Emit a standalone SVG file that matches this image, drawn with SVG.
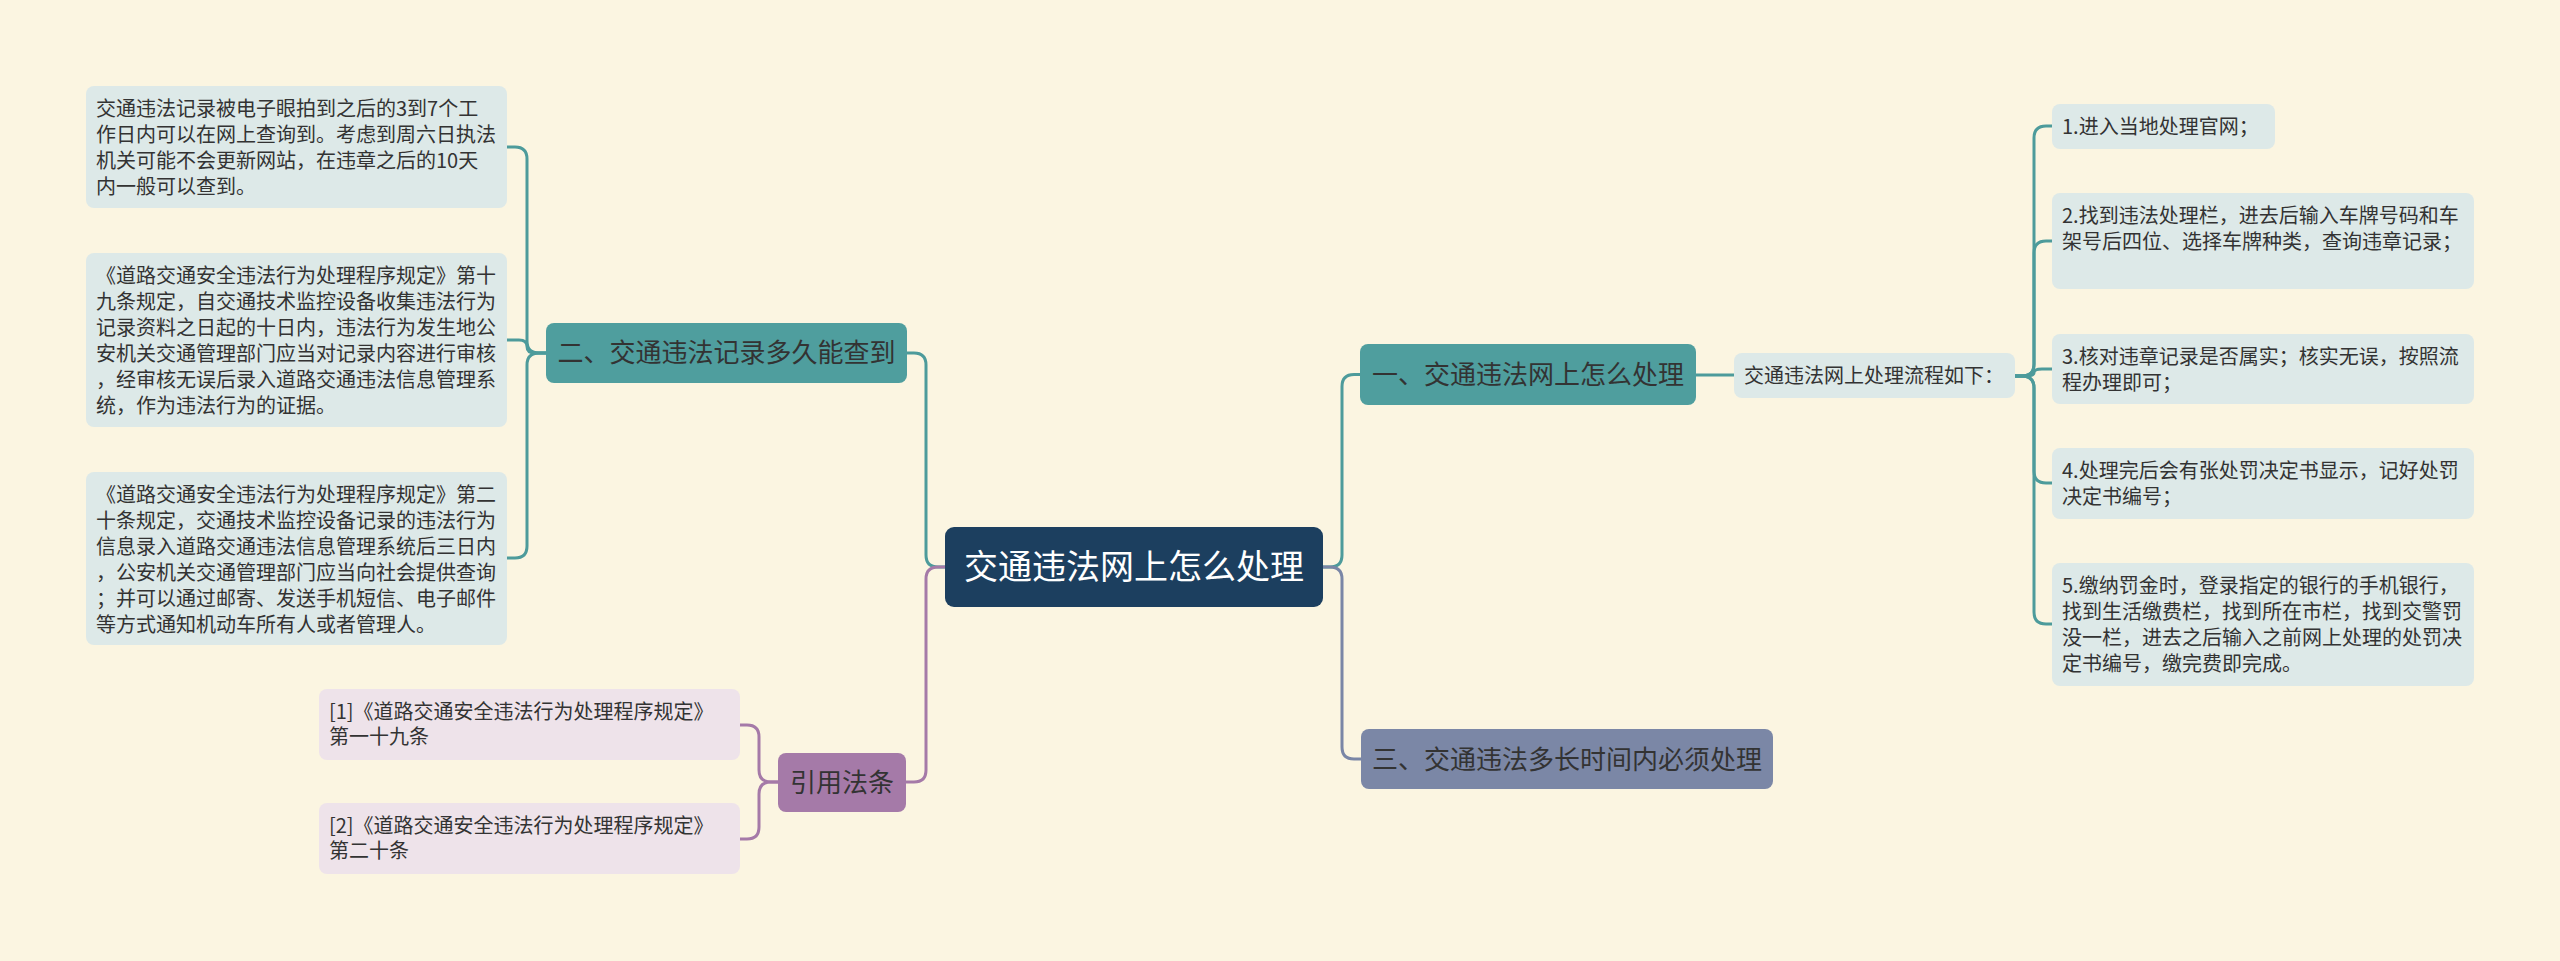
<svg xmlns="http://www.w3.org/2000/svg" width="2560" height="961" viewBox="0 0 2560 961">
<style>
text{font-family:"Noto Sans CJK SC","Noto Sans",sans-serif;fill:#333333}
.leaf{fill:#dde9e8}
.cite{fill:#eee3ea}
.lt{font-size:20px}
.nt{font-size:26px;text-anchor:middle}
.c{fill:none;stroke-width:3;stroke-linecap:round;stroke-linejoin:round}
.teal{stroke:#4d9b9b}
.pur{stroke:#a57aa8}
.sla{stroke:#7a86a6}
</style>
<rect width="2560" height="961" fill="#fbf5e1"/>
<g id="connectors">
<path class="c teal" d="M1323 567 L1330 567 Q1342 567 1342 555 V386.5 Q1342 374.5 1354 374.5 L1360 374.5"/>
<path class="c sla" d="M1323 567 L1330 567 Q1342 567 1342 579 V747 Q1342 759 1354 759 L1361 759"/>
<path class="c teal" d="M945 567 L938 567 Q926 567 926 555 V365 Q926 353 914 353 L907 353"/>
<path class="c pur" d="M945 567 L938 567 Q926 567 926 579 V770 Q926 782 914 782 L906 782"/>
<path class="c teal" d="M546 353 L539 353 Q527 353 527 341 V159 Q527 147 515 147 L507 147"/>
<path class="c teal" d="M546 353 L535 353 Q527 353 527 346.5 Q527 340 519 340 L507 340"/>
<path class="c teal" d="M546 353 L539 353 Q527 353 527 365 V546 Q527 558 515 558 L507 558"/>
<path class="c teal" d="M1696 375 L1734 375"/>
<path class="c teal" d="M2015 376 L2022 376 Q2034 376 2034 364 V138 Q2034 126 2046 126 L2052 126"/>
<path class="c teal" d="M2015 376 L2022 376 Q2034 376 2034 364 V253 Q2034 241 2046 241 L2052 241"/>
<path class="c teal" d="M2015 376 L2026 376 Q2034 376 2034 372.5 Q2034 369 2042 369 L2052 369"/>
<path class="c teal" d="M2015 376 L2022 376 Q2034 376 2034 388 V471 Q2034 483 2046 483 L2052 483"/>
<path class="c teal" d="M2015 376 L2022 376 Q2034 376 2034 388 V612 Q2034 624 2046 624 L2052 624"/>
<path class="c pur" d="M778 782 L771 782 Q759 782 759 770 V737 Q759 725 747 725 L740 725"/>
<path class="c pur" d="M778 782 L771 782 Q759 782 759 794 V827 Q759 839 747 839 L740 839"/>
</g>
<g id="root">
<rect x="945" y="527" width="378" height="80" rx="9" fill="#1c3f5f"/>
<text x="1134" y="579" style="font-size:34px;text-anchor:middle;fill:#ffffff">交通违法网上怎么处理</text>
</g>
<g id="n2">
<rect x="546" y="323" width="361" height="60" rx="8" fill="#4f9e9e"/>
<text class="nt" x="726.5" y="362">二、交通违法记录多久能查到</text>
</g>
<g id="n1">
<rect x="1360" y="344" width="336" height="61" rx="8" fill="#4f9e9e"/>
<text class="nt" x="1528" y="384">一、交通违法网上怎么处理</text>
</g>
<g id="n3">
<rect x="1361" y="729" width="412" height="60" rx="8" fill="#7b87a6"/>
<text class="nt" x="1567" y="768.5">三、交通违法多长时间内必须处理</text>
</g>
<g id="ncite">
<rect x="778" y="753" width="128" height="59" rx="8" fill="#a57aa8"/>
<text class="nt" x="842" y="791.5">引用法条</text>
</g>
<g id="l2a">
<rect class="leaf" x="86" y="86" width="421" height="122" rx="8"/>
<text class="lt" x="96" y="116"><tspan x="96">交通违法记录被电子眼拍到之后的3到7个工</tspan><tspan x="96" dy="26">作日内可以在网上查询到。考虑到周六日执法</tspan><tspan x="96" dy="26">机关可能不会更新网站，在违章之后的10天</tspan><tspan x="96" dy="26">内一般可以查到。</tspan></text>
</g>
<g id="l2b">
<rect class="leaf" x="86" y="253" width="421" height="174" rx="8"/>
<text class="lt" x="96" y="283"><tspan x="96">《道路交通安全违法行为处理程序规定》第十</tspan><tspan x="96" dy="26">九条规定，自交通技术监控设备收集违法行为</tspan><tspan x="96" dy="26">记录资料之日起的十日内，违法行为发生地公</tspan><tspan x="96" dy="26">安机关交通管理部门应当对记录内容进行审核</tspan><tspan x="96" dy="26">，经审核无误后录入道路交通违法信息管理系</tspan><tspan x="96" dy="26">统，作为违法行为的证据。</tspan></text>
</g>
<g id="l2c">
<rect class="leaf" x="86" y="472" width="421" height="173" rx="8"/>
<text class="lt" x="96" y="502"><tspan x="96">《道路交通安全违法行为处理程序规定》第二</tspan><tspan x="96" dy="26">十条规定，交通技术监控设备记录的违法行为</tspan><tspan x="96" dy="26">信息录入道路交通违法信息管理系统后三日内</tspan><tspan x="96" dy="26">，公安机关交通管理部门应当向社会提供查询</tspan><tspan x="96" dy="26">；并可以通过邮寄、发送手机短信、电子邮件</tspan><tspan x="96" dy="26">等方式通知机动车所有人或者管理人。</tspan></text>
</g>
<g id="c1">
<rect class="cite" x="319" y="689" width="421" height="71" rx="8"/>
<text class="lt" x="329" y="719"><tspan x="329">[1]《道路交通安全违法行为处理程序规定》</tspan><tspan x="329" dy="25">第一十九条</tspan></text>
</g>
<g id="c2">
<rect class="cite" x="319" y="803" width="421" height="71" rx="8"/>
<text class="lt" x="329" y="833"><tspan x="329">[2]《道路交通安全违法行为处理程序规定》</tspan><tspan x="329" dy="25">第二十条</tspan></text>
</g>
<g id="flow">
<rect class="leaf" x="1734" y="353" width="281" height="45" rx="8"/>
<text class="lt" x="1744" y="383">交通违法网上处理流程如下：</text>
</g>
<g id="s1">
<rect class="leaf" x="2052" y="104" width="223" height="45" rx="8"/>
<text class="lt" x="2062" y="134">1.进入当地处理官网；</text>
</g>
<g id="s2">
<rect class="leaf" x="2052" y="193" width="422" height="96" rx="8"/>
<text class="lt" x="2062" y="223"><tspan x="2062">2.找到违法处理栏，进去后输入车牌号码和车</tspan><tspan x="2062" dy="26">架号后四位、选择车牌种类，查询违章记录；</tspan></text>
</g>
<g id="s3">
<rect class="leaf" x="2052" y="334" width="422" height="70" rx="8"/>
<text class="lt" x="2062" y="364"><tspan x="2062">3.核对违章记录是否属实；核实无误，按照流</tspan><tspan x="2062" dy="26">程办理即可；</tspan></text>
</g>
<g id="s4">
<rect class="leaf" x="2052" y="448" width="422" height="71" rx="8"/>
<text class="lt" x="2062" y="478"><tspan x="2062">4.处理完后会有张处罚决定书显示，记好处罚</tspan><tspan x="2062" dy="26">决定书编号；</tspan></text>
</g>
<g id="s5">
<rect class="leaf" x="2052" y="563" width="422" height="123" rx="8"/>
<text class="lt" x="2062" y="593"><tspan x="2062">5.缴纳罚金时，登录指定的银行的手机银行，</tspan><tspan x="2062" dy="26">找到生活缴费栏，找到所在市栏，找到交警罚</tspan><tspan x="2062" dy="26">没一栏，进去之后输入之前网上处理的处罚决</tspan><tspan x="2062" dy="26">定书编号，缴完费即完成。</tspan></text>
</g>
</svg>
